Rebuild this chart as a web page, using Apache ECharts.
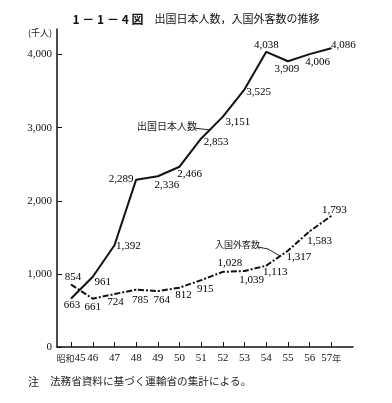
<!DOCTYPE html>
<html>
<head>
<meta charset="utf-8">
<script src="https://cdn.jsdelivr.net/npm/echarts@6/dist/echarts.min.js"></script>
<style>
html,body{margin:0;padding:0;background:#fff;}
#c{width:392px;height:403px;}
</style>
</head>
<body>
<div id="c"></div>
<script>
// ---- data ----
const years = [45, 46, 47, 48, 49, 50, 51, 52, 53, 54, 55, 56, 57];
const outbound = [663, 961, 1392, 2289, 2336, 2466, 2853, 3151, 3525, 4038, 3909, 4006, 4086]; // 出国日本人数
const inbound = [854, 661, 724, 785, 764, 812, 915, 1028, 1039, 1113, 1317, 1583, 1793];      // 入国外客数
const yTicks = [0, 1000, 2000, 3000, 4000];
const seriesNames = ['出国日本人数', '入国外客数'];

// ---- label placement (style only) ----
const outOffsets = [[1,7],[10,5],[14,1],[-15,-1],[9,9],[10,7],[15,4],[15,5],[14,3],[0,-7],[-1,8],[8,8],[12,-3]];
const inOffsets = [[2,-7],[0,8],[1,8],[4,10],[4,9],[4,7],[4,9],[7,-9],[7,9],[9,6],[11,6],[10,10],[3,-6]];

const fmt = v => String(v).replace(/\B(?=(\d{3})+(?!\d))/g, ',');
const serif = '"Liberation Serif", "DejaVu Serif", serif';
const cjk = '"Noto Sans CJK JP", sans-serif';

function build(vals, offs) {
  return vals.map((v, i) => ({
    value: [years[i], v],
    label: { offset: offs[i] }
  }));
}

const chart = echarts.init(document.getElementById('c'), null, {renderer: 'canvas'});
const labelBase = {
  show: true, position: 'inside', align: 'center', verticalAlign: 'middle',
  fontFamily: serif, fontSize: 11, color: '#000',
  formatter: p => fmt(p.value[1])
};

chart.setOption({
  animation: false,
  backgroundColor: '#fff',
  title: {
    text: '{a|1 － 1 － 4 図}{b|　出国日本人数，入国外客数の推移}',
    left: 'center', top: 8,
    textStyle: {
      fontWeight: 'normal',
      rich: {
        a: {fontFamily: cjk, fontWeight: 'bold', fontSize: 12, color: '#111'},
        b: {fontFamily: cjk, fontWeight: 'normal', fontSize: 11, color: '#111'}
      }
    }
  },
  grid: {left: 57, right: 39, top: 29, bottom: 56, containLabel: false, outerBoundsMode: 'none'},
  xAxis: {
    type: 'value', min: 44.35, max: 58,
    axisLine: {show: true, lineStyle: {color: '#111', width: 1.5}},
    axisTick: {show: true, inside: true, length: 5, customValues: years, lineStyle: {color: '#111', width: 1}},
    splitLine: {show: false},
    axisLabel: {
      customValues: years, margin: 6,
      fontFamily: serif, fontSize: 11, color: '#111',
      formatter: v => v === 45 ? '{s|昭和}45' : (v === 57 ? '57{s|年}' : String(v)),
      rich: {s: {fontFamily: cjk, fontSize: 9, color: '#333'}}
    }
  },
  yAxis: {
    type: 'value', min: 0, max: 4350,
    axisLine: {show: true, lineStyle: {color: '#111', width: 1.5}},
    axisTick: {show: true, inside: true, length: 5, customValues: yTicks, lineStyle: {color: '#111', width: 1}},
    splitLine: {show: false},
    axisLabel: {
      customValues: yTicks, margin: 5,
      fontFamily: serif, fontSize: 11, color: '#111',
      formatter: v => fmt(v)
    }
  },
  graphic: [
    {type: 'text', left: 28, top: 28, style: {text: '(千人)', font: '9px ' + cjk, fill: '#222'}},
    {type: 'text', left: 137, top: 121, style: {text: seriesNames[0], font: '10px ' + cjk, fill: '#222'}},
    {type: 'line', shape: {x1: 194, y1: 128, x2: 210, y2: 130}, style: {stroke: '#222', lineWidth: 1}},
    {type: 'text', left: 215, top: 240, style: {text: seriesNames[1], font: '9px ' + cjk, fill: '#222'}},
    {type: 'polyline', shape: {points: [[258, 247], [268, 249], [280, 256]]}, style: {stroke: '#222', lineWidth: 1, fill: null}},
    {type: 'text', left: 28, top: 376, style: {text: '注', font: '11px ' + cjk, fill: '#222'}},
    {type: 'text', left: 50, top: 376, style: {text: '法務省資料に基づく運輸省の集計による。', font: '10.6px ' + cjk, fill: '#222'}}
  ],
  series: [
    {
      name: seriesNames[0], type: 'line',
      data: build(outbound, outOffsets),
      symbol: 'circle', symbolSize: 1,
      itemStyle: {color: '#111'},
      lineStyle: {color: '#111', width: 2},
      label: labelBase
    },
    {
      name: seriesNames[1], type: 'line',
      data: build(inbound, inOffsets),
      symbol: 'circle', symbolSize: 1,
      itemStyle: {color: '#111'},
      lineStyle: {color: '#111', width: 2, type: [6, 2, 2, 2]},
      label: labelBase
    }
  ]
});
</script>
</body>
</html>
